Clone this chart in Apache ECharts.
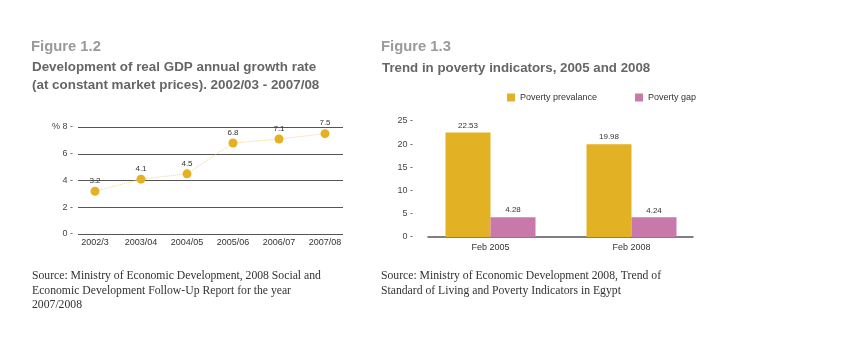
<!DOCTYPE html>
<html>
<head>
<meta charset="utf-8">
<script src="https://cdn.jsdelivr.net/npm/echarts@6/dist/echarts.min.js"></script>
<style>
html,body{margin:0;padding:0;background:#fff;}
#chart{width:847px;height:343px;}
</style>
</head>
<body>
<div id="chart"></div>
<script>
// Figure 1.2 data
const gdpYears = ['2002/3', '2003/04', '2004/05', '2005/06', '2006/07', '2007/08'];
const gdpGrowth = [3.2, 4.1, 4.5, 6.8, 7.1, 7.5];
const gdpTicks = [0, 2, 4, 6, 8];

// Figure 1.3 data
const povertyPeriods = ['Feb 2005', 'Feb 2008'];
const povertyPrevalence = [22.53, 19.98];
const povertyGap = [4.28, 4.24];
const povertyTicks = [0, 5, 10, 15, 20, 25];

const SANS = '"Liberation Sans", Arial, sans-serif';
const SERIF = '"Liberation Serif", "Times New Roman", serif';

const chart = echarts.init(document.getElementById('chart'));

chart.setOption({
  backgroundColor: '#ffffff',
  animation: false,
  title: [
    {text: 'Figure 1.2', left: 31, top: 39, padding: 0, textStyle: {fontFamily: SANS, fontSize: 14.8, fontWeight: 'bold', color: '#9a9a9a'}},
    {text: 'Development of real GDP annual growth rate\n(at constant market prices). 2002/03 - 2007/08', left: 32, top: 58, padding: 0,
      textStyle: {fontFamily: SANS, fontSize: 13.4, fontWeight: 'bold', color: '#666666', lineHeight: 18}},
    {text: 'Figure 1.3', left: 381, top: 39, padding: 0, textStyle: {fontFamily: SANS, fontSize: 14.8, fontWeight: 'bold', color: '#9a9a9a'}},
    {text: 'Trend in poverty indicators, 2005 and 2008', left: 382, top: 59, padding: 0,
      textStyle: {fontFamily: SANS, fontSize: 13.3, fontWeight: 'bold', color: '#666666', lineHeight: 18}}
  ],
  legend: {
    left: 502, top: 88,
    itemWidth: 8, itemHeight: 8, itemGap: 38,
    icon: 'rect',
    textStyle: {fontFamily: SANS, fontSize: 9, color: '#333'},
    data: ['Poverty prevalance', 'Poverty gap']
  },
  grid: [
    {left: 78, width: 265, top: 127, bottom: 109},
    {left: 72, width: 276, top: 127, bottom: 109},
    {left: 428, width: 265, top: 121, bottom: 106},
    {left: 420, width: 282, top: 121, bottom: 106}
  ],
  xAxis: [
    {gridIndex: 0, type: 'category', data: gdpYears, show: false},
    {gridIndex: 1, type: 'category', data: gdpYears, boundaryGap: true,
      axisLine: {show: false}, axisTick: {show: false},
      axisLabel: {fontFamily: SANS, fontSize: 9, color: '#333', margin: 4}},
    {gridIndex: 2, type: 'category', data: povertyPeriods,
      axisLine: {show: true, lineStyle: {color: '#555', width: 1.5}}, axisTick: {show: false}, axisLabel: {show: false}},
    {gridIndex: 3, type: 'category', data: povertyPeriods,
      axisLine: {show: false}, axisTick: {show: false},
      axisLabel: {fontFamily: SANS, fontSize: 9, color: '#333', margin: 6}}
  ],
  yAxis: [
    {gridIndex: 0, type: 'value', min: gdpTicks[0], max: gdpTicks[gdpTicks.length - 1], interval: 2,
      axisLine: {show: false}, axisTick: {show: false},
      splitLine: {show: true, lineStyle: {color: '#555', width: 1}},
      axisLabel: {fontFamily: SANS, fontSize: 9, color: '#444', margin: 5,
        formatter: v => (v === 8 ? '% 8 -' : v + ' -')}},
    {gridIndex: 1, type: 'value', min: gdpTicks[0], max: gdpTicks[gdpTicks.length - 1], show: false},
    {gridIndex: 2, type: 'value', min: povertyTicks[0], max: povertyTicks[povertyTicks.length - 1], interval: 5,
      axisLine: {show: false}, axisTick: {show: false}, splitLine: {show: false},
      axisLabel: {fontFamily: SANS, fontSize: 9, color: '#444', margin: 15, formatter: v => v + ' -'}},
    {gridIndex: 3, type: 'value', min: povertyTicks[0], max: povertyTicks[povertyTicks.length - 1], show: false}
  ],
  series: [
    {
      type: 'line', xAxisIndex: 1, yAxisIndex: 1, data: gdpGrowth,
      symbol: 'circle', symbolSize: 9,
      itemStyle: {color: '#e5b122'},
      lineStyle: {color: '#f5d590', width: 1, type: 'dotted'},
      label: {show: true, position: 'top', distance: 2, fontFamily: SANS, fontSize: 8, color: '#333'}
    },
    {
      name: 'Poverty prevalance', type: 'bar', xAxisIndex: 3, yAxisIndex: 3, data: povertyPrevalence,
      barWidth: 45, barGap: '0%',
      itemStyle: {color: '#e3b124'},
      label: {show: true, position: 'top', distance: 3, fontFamily: SANS, fontSize: 8, color: '#333'}
    },
    {
      name: 'Poverty gap', type: 'bar', xAxisIndex: 3, yAxisIndex: 3, data: povertyGap,
      barWidth: 45, barGap: '0%',
      itemStyle: {color: '#c978aa'},
      label: {show: true, position: 'top', distance: 3, fontFamily: SANS, fontSize: 8, color: '#333'}
    }
  ],
  graphic: [
    {type: 'text', left: 32, top: 269, style: {
      text: 'Source: Ministry of Economic Development, 2008 Social and\nEconomic Development Follow-Up Report for the year\n2007/2008',
      font: '11.7px ' + SERIF, fill: '#333', lineHeight: 14.5}},
    {type: 'text', left: 381, top: 269, style: {
      text: 'Source: Ministry of Economic Development 2008, Trend of\nStandard of Living and Poverty Indicators in Egypt',
      font: '11.7px ' + SERIF, fill: '#333', lineHeight: 14.5}}
  ]
});
</script>
</body>
</html>
